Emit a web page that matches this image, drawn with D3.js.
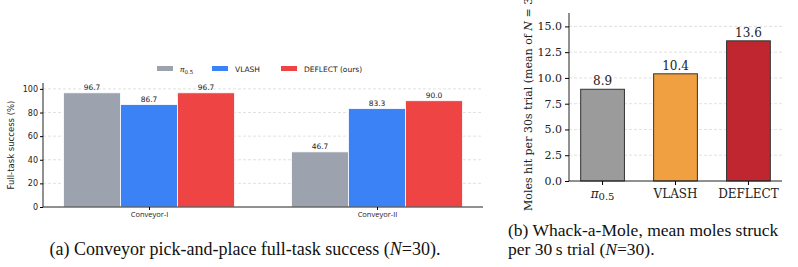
<!DOCTYPE html>
<html>
<head>
<meta charset="utf-8">
<script src="https://cdn.jsdelivr.net/npm/d3@7"></script>
<style>
  body { margin: 0; background: #fff; }
  svg { display: block; }
</style>
</head>
<body>
<svg id="fig" width="798" height="267"></svg>
<script>
// ---- data ----
const conveyorTasks = ["Conveyor-I", "Conveyor-II"];
const conveyorMethods = ["pi", "VLASH", "DEFLECT (ours)"];
const conveyorPi = [96.7, 46.7];
const conveyorVlash = [86.7, 83.3];
const conveyorDeflect = [96.7, 90.0];
const conveyorTicks = [0, 20, 40, 60, 80, 100];

const moleMethods = ["pi", "VLASH", "DEFLECT"];
const moleValues = [8.9, 10.4, 13.6];
const moleTicks = [0, 2.5, 5, 7.5, 10, 12.5, 15];

const svg = d3.select("#fig");
const sans = "DejaVu Sans, sans-serif";
const mplSerif = "DejaVu Serif, serif";
const times = "Liberation Serif, Times New Roman, serif";

// helper for the pi_0.5 label
function piLabel(sel, subSize) {
  sel.append("tspan").attr("font-style", "italic").text("π");
  sel.append("tspan").attr("font-size", subSize).attr("dy", 2).text("0.5");
}

// ======================================================
// (a) Conveyor grouped bars
// ======================================================
(function () {
  const left = 43, right = 483, top = 83, bottom = 207;
  const g = svg.append("g");
  const colors = ["#9ca3af", "#3b82f6", "#ef4444"];
  const series = [conveyorPi, conveyorVlash, conveyorDeflect];

  const x = d3.scalePoint().domain(conveyorTasks).range([left, right]).padding(0.465);
  const sub = d3.scaleBand().domain(d3.range(3)).range([-85.5, 85.5]);
  const y = d3.scaleLinear().domain([0, 105]).range([bottom, top]);

  // grid
  g.selectAll(".grid").data(conveyorTicks.slice(1)).enter().append("line")
    .attr("x1", left).attr("x2", right)
    .attr("y1", d => y(d)).attr("y2", d => y(d))
    .attr("stroke", "#d9d9d9").attr("stroke-width", 0.8).attr("stroke-dasharray", "3,2");

  // bars
  series.forEach((vals, s) => {
    g.selectAll(".b" + s).data(vals).enter().append("rect")
      .attr("x", (d, i) => x(conveyorTasks[i]) + sub(s))
      .attr("y", d => y(d))
      .attr("width", sub.bandwidth())
      .attr("height", d => bottom - y(d))
      .attr("fill", colors[s])
      .attr("stroke", "#fff").attr("stroke-width", 0.8);
    g.selectAll(".v" + s).data(vals).enter().append("text")
      .attr("x", (d, i) => x(conveyorTasks[i]) + sub(s) + sub.bandwidth() / 2)
      .attr("y", d => y(d) - 3)
      .attr("text-anchor", "middle")
      .attr("font-family", sans).attr("font-size", 7.5).attr("fill", "#222")
      .text(d => d.toFixed(1));
  });

  // axes
  const ya = g.append("g").attr("transform", `translate(${left},0)`)
    .call(d3.axisLeft(y).tickValues(conveyorTicks).tickSize(3).tickPadding(2));
  ya.select(".domain").attr("d", `M0,${top}V${bottom}`);
  ya.selectAll("text").attr("font-family", sans).attr("font-size", 8).attr("fill", "#222");

  const xa = g.append("g").attr("transform", `translate(0,${bottom})`)
    .call(d3.axisBottom(x).tickSize(3).tickPadding(2));
  xa.select(".domain").attr("d", `M${left},0H${right}`);
  xa.selectAll("text").attr("font-family", "Open Sans, sans-serif").attr("font-size", 7.5).attr("fill", "#222");
  g.selectAll(".domain").attr("stroke", "#222").attr("stroke-width", 1);

  g.append("text")
    .attr("transform", `translate(14,${(top + bottom) / 2}) rotate(-90)`)
    .attr("text-anchor", "middle")
    .attr("font-family", sans).attr("font-size", 8.5).attr("fill", "#222")
    .text("Full-task success (%)");

  // legend
  const legX = [157, 212, 281];
  conveyorMethods.forEach((m, i) => {
    g.append("rect").attr("x", legX[i]).attr("y", 66).attr("width", 16).attr("height", 5)
      .attr("fill", colors[i]);
    const t = g.append("text").attr("x", legX[i] + 23).attr("y", 71.5)
      .attr("font-family", sans).attr("font-size", 7.5).attr("fill", "#222");
    if (m === "pi") piLabel(t, 5.5); else t.text(m);
  });

  // caption
  const cap = svg.append("text").attr("x", 245).attr("y", 255)
    .attr("text-anchor", "middle").attr("font-family", times).attr("font-size", 18).attr("fill", "#111");
  cap.append("tspan").text("(a) Conveyor pick-and-place full-task success (");
  cap.append("tspan").attr("font-style", "italic").text("N");
  cap.append("tspan").text("=30).");
})();

// ======================================================
// (b) Whack-a-Mole bars
// ======================================================
(function () {
  const left = 569, right = 782, top = 13, bottom = 181;
  const g = svg.append("g");
  const colors = ["#9b9b9b", "#f0a040", "#c0262f"];

  const x = d3.scaleBand().domain(moleMethods).range([left, right])
    .paddingInner(0.4).paddingOuter(0.16);
  const y = d3.scaleLinear().domain([0, 16.3]).range([bottom, top]);

  g.selectAll(".grid").data(moleTicks.slice(1)).enter().append("line")
    .attr("x1", left).attr("x2", right)
    .attr("y1", d => y(d)).attr("y2", d => y(d))
    .attr("stroke", "#d9d9d9").attr("stroke-width", 0.8).attr("stroke-dasharray", "3,2");

  g.selectAll(".bar").data(moleValues).enter().append("rect")
    .attr("x", (d, i) => x(moleMethods[i]))
    .attr("y", d => y(d))
    .attr("width", x.bandwidth())
    .attr("height", d => bottom - y(d))
    .attr("fill", (d, i) => colors[i])
    .attr("stroke", "#333").attr("stroke-width", 1);

  g.selectAll(".val").data(moleValues).enter().append("text")
    .attr("x", (d, i) => x(moleMethods[i]) + x.bandwidth() / 2)
    .attr("y", d => y(d) - 4)
    .attr("text-anchor", "middle")
    .attr("font-family", mplSerif).attr("font-size", 12).attr("fill", "#222")
    .text(d => d.toFixed(1));

  const ya = g.append("g").attr("transform", `translate(${left},0)`)
    .call(d3.axisLeft(y).tickValues(moleTicks).tickFormat(d3.format(".1f")).tickSize(4).tickPadding(3));
  ya.select(".domain").attr("d", `M0,${top}V${bottom}`);
  ya.selectAll("text").attr("font-family", mplSerif).attr("font-size", 11).attr("fill", "#222");

  const xa = g.append("g").attr("transform", `translate(0,${bottom})`)
    .call(d3.axisBottom(x).tickSize(4).tickPadding(4));
  xa.select(".domain").attr("d", `M${left},0H${right}`);
  xa.selectAll("text").attr("font-family", mplSerif).attr("font-size", 12).attr("fill", "#222")
    .each(function (d) {
      if (d === "pi") { const t = d3.select(this).text(""); piLabel(t, 10); }
    });
  g.selectAll(".domain").attr("stroke", "#222").attr("stroke-width", 1);

  // y label runs past the top edge, as in the source figure
  const yl = g.append("text")
    .attr("transform", `translate(532,211) rotate(-90)`)
    .attr("text-anchor", "start")
    .attr("font-family", mplSerif).attr("font-size", 11).attr("fill", "#222");
  yl.append("tspan").text("Moles hit per 30s trial (mean of ");
  yl.append("tspan").attr("font-style", "italic").text("N");
  yl.append("tspan").text(" = 30)");

  const cap = svg.append("text").attr("font-family", times).attr("font-size", 17.5).attr("fill", "#111");
  cap.append("tspan").attr("x", 508).attr("y", 236).text("(b) Whack-a-Mole, mean moles struck");
  cap.append("tspan").attr("x", 508).attr("y", 255).text("per 30\u2009s trial (");
  cap.append("tspan").attr("font-style", "italic").text("N");
  cap.append("tspan").text("=30).");
})();
</script>
</body>
</html>
